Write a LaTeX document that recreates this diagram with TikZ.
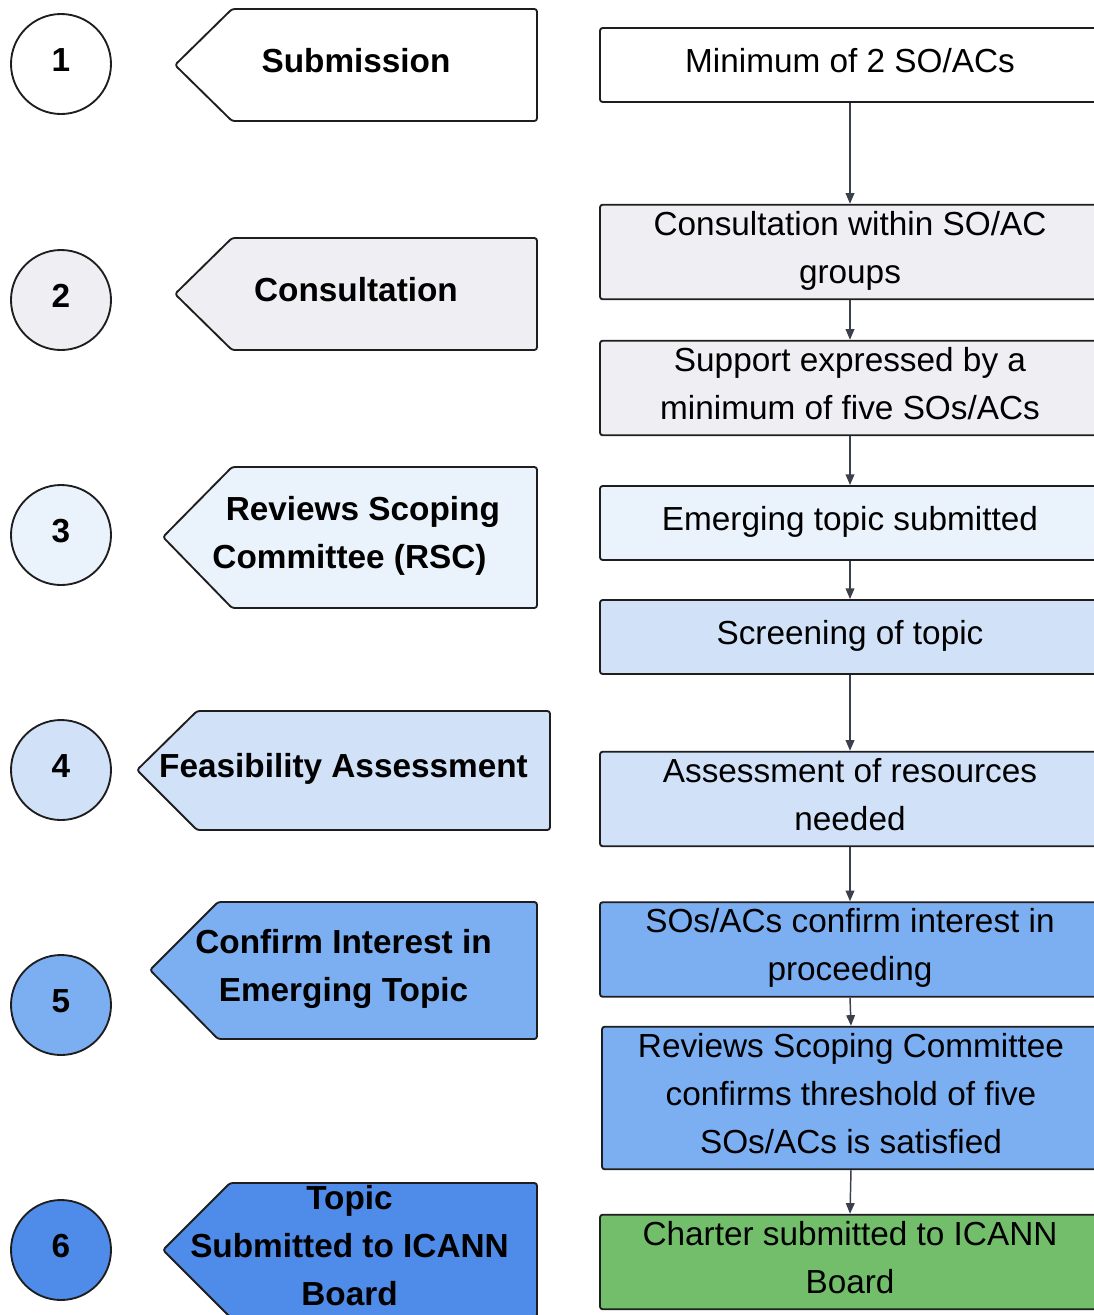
\documentclass[tikz,border=0pt]{standalone}
\usepackage{fontspec}
\setmainfont{Liberation Sans}
\usetikzlibrary{arrows.meta}
\definecolor{cgray}{HTML}{EFEFF3}
\definecolor{clight}{HTML}{EAF2FC}
\definecolor{cpale}{HTML}{D0E1F8}
\definecolor{cmid}{HTML}{7CAEF2}
\definecolor{cdeep}{HTML}{4F8BE8}
\definecolor{cgreen}{HTML}{73BE6B}
\definecolor{cline}{HTML}{1E1E1E}
\definecolor{carrow}{HTML}{3A414B}
\newcommand\ls{\rule[-12.2pt]{0pt}{34.9pt}}
\begin{document}
\begin{tikzpicture}[x=0.75pt,y=-0.75pt,
  numcircle/.style={circle,draw=cline,line width=1.4pt,minimum size={100*0.75pt},inner sep=0pt,
    text height=17.6pt,text depth=6pt,font=\fontsize{25}{30}\selectfont\bfseries},
  tagshape/.style={draw=cline,line width=1.4pt,rounded corners=2pt,line join=round},
  tagtext/.style={font=\fontsize{25}{36}\selectfont\bfseries,align=center,inner sep=0pt},
  stepbox/.style={draw=cline,line width=1.4pt,rounded corners=2pt,minimum width={500*0.75pt},inner sep=0pt,
    font=\fontsize{25}{36}\selectfont,align=center},
  conn/.style={draw=carrow,line width=1.1pt,-{Triangle[width=6.5pt,length=8pt]}}]
\useasboundingbox (0,0) rectangle (1094,1315);
\clip (0,0) rectangle (1094,1315);

% circles
\node[numcircle,fill=white] (c1) at (61,64) {1};
\node[numcircle,fill=cgray] (c2) at (61,300) {2};
\node[numcircle,fill=clight] (c3) at (61,535) {3};
\node[numcircle,fill=cpale] (c4) at (61,770) {4};
\node[numcircle,fill=cmid] (c5) at (61,1005) {5};
\node[numcircle,fill=cdeep] (c6) at (61,1250) {6};

% tag shapes
\path[tagshape,fill=white] (232,9) -- (537,9) -- (537,121) -- (232,121) -- (175,65) -- cycle;
\node[tagtext] (t1) at (356,65) {\ls Submission};
\path[tagshape,fill=cgray] (232,238) -- (537,238) -- (537,350) -- (232,350) -- (175,294) -- cycle;
\node[tagtext] (t2) at (356,294) {\ls Consultation};
\path[tagshape,fill=clight] (232,467) -- (537,467) -- (537,608) -- (232,608) -- (163,537) -- cycle;
\node[tagtext] (t3) at (349.5,537.5) {\ls\hspace*{20pt}Reviews Scoping\\\ls Committee (RSC)};
\path[tagshape,fill=cpale] (197,711) -- (550,711) -- (550,830) -- (197,830) -- (137,770) -- cycle;
\node[tagtext] (t4) at (343.5,770.5) {\ls Feasibility Assessment};
\path[tagshape,fill=cmid] (218,902) -- (537,902) -- (537,1039) -- (218,1039) -- (150,970) -- cycle;
\node[tagtext] (t5) at (343.5,970.5) {\ls Confirm Interest in\\\ls Emerging Topic};
\path[tagshape,fill=cdeep] (230,1183) -- (537,1183) -- (537,1317) -- (230,1317) -- (163,1250) -- cycle;
\node[tagtext] (t6) at (349.5,1250) {\ls Topic\\\ls Submitted to ICANN\\\ls Board};

% step boxes
\node[stepbox,fill=white,minimum height={74*0.75pt}] (b1) at (850,65) {\ls Minimum of 2 SO/ACs};
\node[stepbox,fill=cgray,minimum height={94*0.75pt}] (b2) at (850,252) {\ls Consultation within SO/AC\\\ls groups};
\node[stepbox,fill=cgray,minimum height={94*0.75pt}] (b3) at (850,388) {\ls Support expressed by a\\\ls minimum of five SOs/ACs};
\node[stepbox,fill=clight,minimum height={74*0.75pt}] (b4) at (850,523) {\ls Emerging topic submitted};
\node[stepbox,fill=cpale,minimum height={74*0.75pt}] (b5) at (850,637) {\ls Screening of topic};
\node[stepbox,fill=cpale,minimum height={94*0.75pt}] (b6) at (850,799) {\ls Assessment of resources\\\ls needed};
\node[stepbox,fill=cmid,minimum height={93*0.75pt}] (b7) at (850,949.5) {\ls SOs/ACs confirm interest in\\\ls proceeding};
\node[stepbox,fill=cmid,minimum width={498*0.75pt},minimum height={142*0.75pt}] (b8) at (851,1098) {\ls Reviews Scoping Committee\\\ls confirms threshold of five\\\ls SOs/ACs is satisfied};
\node[stepbox,fill=cgreen,minimum height={94*0.75pt}] (b9) at (850,1262) {\ls Charter submitted to ICANN\\\ls Board};

% connectors
\draw[conn] (b1.south) -- (b2.north);
\draw[conn] (b2.south) -- (b3.north);
\draw[conn] (b3.south) -- (b4.north);
\draw[conn] (b4.south) -- (b5.north);
\draw[conn] (b5.south) -- (b6.north);
\draw[conn] (b6.south) -- (b7.north);
\draw[conn] (b7.south) -- (b8.north);
\draw[conn] (b8.south) -- (b9.north);
\end{tikzpicture}
\end{document}
